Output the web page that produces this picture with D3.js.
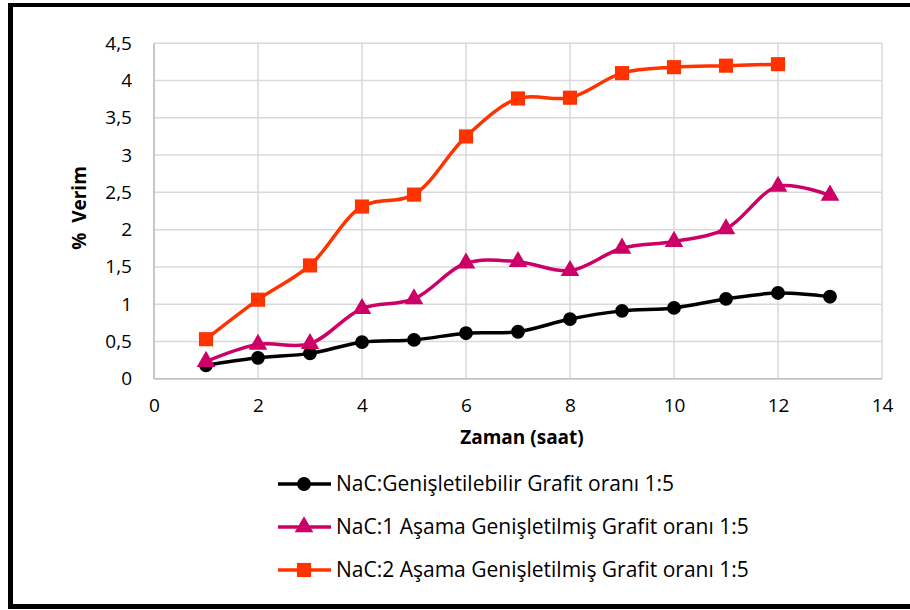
<!DOCTYPE html>
<html><head><meta charset="utf-8">
<script src="https://cdn.jsdelivr.net/npm/d3@7"></script>
<style>body{margin:0;background:#fff}svg{display:block;font-family:"Open Sans",sans-serif;font-variant-ligatures:none}</style>
</head><body><svg id="c" width="910" height="610"></svg>
<script>
const hours = [1,2,3,4,5,6,7,8,9,10,11,12,13];
const s1 = [0.18,0.28,0.34,0.49,0.52,0.61,0.63,0.80,0.91,0.95,1.07,1.15,1.10];
const s2 = [0.23,0.46,0.47,0.94,1.07,1.55,1.57,1.45,1.75,1.84,2.01,2.58,2.46];
const s3 = [0.53,1.06,1.52,2.31,2.47,3.25,3.76,3.77,4.10,4.18,4.20,4.22];
const seriesNames = ["NaC:Genişletilebilir Grafit oranı 1:5","NaC:1 Aşama Genişletilmiş Grafit oranı 1:5","NaC:2 Aşama Genişletilmiş Grafit oranı 1:5"];
const xTicks = [0,2,4,6,8,10,12,14];
const yTicks = [0,0.5,1,1.5,2,2.5,3,3.5,4,4.5];

const FONT = "'Open Sans',sans-serif";
const svg = d3.select("#c");
const x = d3.scaleLinear().domain([0,14]).range([154,882]);
const y = d3.scaleLinear().domain([0,4.5]).range([378.7,43.3]);
const fmt = v => String(v).replace(".", ",");

// outer frame
svg.append("line").attr("x1",8).attr("x2",910).attr("y1",5).attr("y2",5).attr("stroke","#000").attr("stroke-width",4);
svg.append("line").attr("x1",10.5).attr("x2",10.5).attr("y1",3).attr("y2",608).attr("stroke","#000").attr("stroke-width",5);
svg.append("line").attr("x1",8).attr("x2",910).attr("y1",606.5).attr("y2",606.5).attr("stroke","#000").attr("stroke-width",5);

// grid
const g = svg.append("g");
g.selectAll(".hg").data(yTicks).join("line").attr("x1",x(0)).attr("x2",x(14)).attr("y1",d=>y(d)).attr("y2",d=>y(d)).attr("stroke","#d9d9d9").attr("stroke-width",1.5);
g.selectAll(".vg").data(xTicks).join("line").attr("x1",d=>x(d)).attr("x2",d=>x(d)).attr("y1",y(0)).attr("y2",y(4.5)).attr("stroke","#d9d9d9").attr("stroke-width",1.5);
g.append("line").attr("x1",x(0)).attr("x2",x(0)).attr("y1",y(0)).attr("y2",y(4.5)).attr("stroke","#bfbfbf").attr("stroke-width",1.5);
g.append("line").attr("x1",x(0)).attr("x2",x(14)).attr("y1",y(0)).attr("y2",y(0)).attr("stroke","#bfbfbf").attr("stroke-width",1.5);

// axes
const ya = d3.axisLeft(y).tickValues(yTicks).tickFormat(fmt).tickSize(0).tickPadding(22);
svg.append("g").attr("transform",`translate(${x(0)},0)`).call(ya).call(a=>a.select(".domain").remove())
  .selectAll("text").attr("font-size",19).attr("font-family",FONT).attr("fill","#000");
const xa = d3.axisBottom(x).tickValues(xTicks).tickFormat(fmt).tickSize(0).tickPadding(20);
svg.append("g").attr("transform",`translate(0,${y(0)})`).call(xa).call(a=>a.select(".domain").remove())
  .selectAll("text").attr("font-size",19).attr("font-family",FONT).attr("fill","#000");

svg.append("text").attr("x",522).attr("y",444).attr("text-anchor","middle").attr("font-weight","bold").attr("font-size",19).text("Zaman (saat)");
svg.append("text").attr("transform","translate(86,208) rotate(-90)").attr("text-anchor","middle").attr("font-weight","bold").attr("font-size",19).style("white-space","pre").text("%  Verim");

const colors = ["#000000","#cc0066","#ff3300"];
const data = [s1,s2,s3];
const line = d3.line().curve(d3.curveCatmullRom.alpha(0.5));
const symbols = [d3.symbolCircle, d3.symbolTriangle, d3.symbolSquare];
const sizes = [150, 150, 200];

data.forEach((vals,i)=>{
  const pts = vals.map((v,j)=>[x(hours[j]), y(v)]);
  svg.append("path").attr("d",line(pts)).attr("fill","none").attr("stroke",colors[i]).attr("stroke-width",3.5);
});
data.forEach((vals,i)=>{
  svg.append("g").selectAll("path").data(vals).join("path")
    .attr("transform",(v,j)=>`translate(${x(hours[j])},${y(v)})`)
    .attr("d",d3.symbol().type(symbols[i]).size(sizes[i])).attr("fill",colors[i]);
});

// legend
const ly = [484,527,570];
seriesNames.forEach((n,i)=>{
  const lg = svg.append("g").attr("transform",`translate(0,${ly[i]})`);
  lg.append("line").attr("x1",278).attr("x2",331).attr("stroke",colors[i]).attr("stroke-width",3.5);
  lg.append("path").attr("transform","translate(304,0)").attr("d",d3.symbol().type(symbols[i]).size(sizes[i])).attr("fill",colors[i]);
  lg.append("text").attr("x",336).attr("y",7).attr("font-size",21).text(n);
});
</script></body></html>
